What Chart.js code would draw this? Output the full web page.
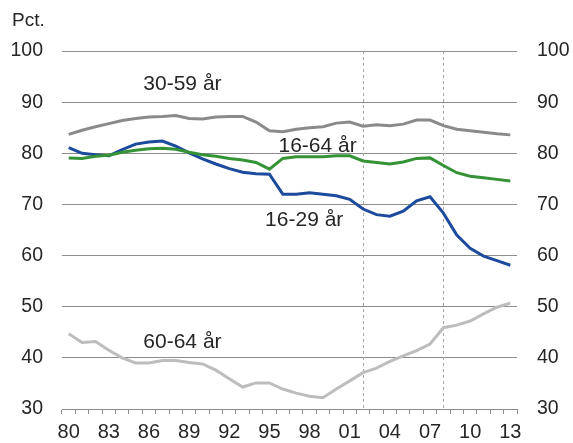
<!DOCTYPE html>
<html>
<head>
<meta charset="utf-8">
<script src="https://cdn.jsdelivr.net/npm/chart.js@4.4.0/dist/chart.umd.min.js"></script>
<style>
  html, body { margin: 0; padding: 0; background: #fff; }
  #wrap { width: 573px; height: 443px; }
</style>
</head>
<body>
<div id="wrap"><canvas id="chart" width="573" height="443"></canvas></div>
<script>
const years = [];
for (let y = 1980; y <= 2013; y++) years.push(y);

// beskæftigelsesfrekvens, pct.
const age3059 = [83.7, 84.5, 85.2, 85.8, 86.4, 86.8, 87.1, 87.2, 87.4, 86.8,
                 86.7, 87.1, 87.2, 87.2, 86.1, 84.4, 84.2, 84.7, 85.0, 85.2,
                 85.9, 86.1, 85.3, 85.6, 85.4, 85.7, 86.5, 86.5, 85.4, 84.7,
                 84.4, 84.1, 83.8, 83.6];
const age1664 = [79.1, 79.0, 79.4, 79.6, 80.2, 80.6, 80.9, 81.0, 80.8, 80.2,
                 79.7, 79.4, 79.0, 78.7, 78.2, 76.9, 79.0, 79.3, 79.3, 79.3,
                 79.5, 79.5, 78.5, 78.2, 77.9, 78.3, 79.0, 79.1, 77.6, 76.2,
                 75.5, 75.2, 74.9, 74.6];
const age1629 = [81.1, 80.0, 79.7, 79.5, 80.7, 81.8, 82.2, 82.4, 81.4, 80.1,
                 78.9, 77.9, 77.0, 76.3, 76.0, 75.9, 72.0, 72.0, 72.3, 72.0,
                 71.7, 71.0, 69.1, 68.0, 67.7, 68.7, 70.7, 71.5, 68.3, 64.0,
                 61.4, 59.9, 59.0, 58.1];
const age6064 = [44.7, 43.0, 43.2, 41.5, 40.0, 39.0, 39.0, 39.5, 39.5, 39.1,
                 38.8, 37.6, 35.9, 34.3, 35.1, 35.1, 33.9, 33.1, 32.5, 32.2,
                 33.9, 35.5, 37.1, 38.0, 39.3, 40.4, 41.4, 42.7, 45.9, 46.4,
                 47.2, 48.6, 49.9, 50.7];

const markerYears = [2002, 2008];
const yTicks = [30, 40, 50, 60, 70, 80, 90, 100];

// serie-labels: [tekst, x (kategori-indeks), y (pct.)]
const seriesLabels = [
    ['30-59 år', 8.5, 93.6],
    ['16-64 år', 18.6, 81.3],
    ['16-29 år', 17.6, 67.0],
    ['60-64 år', 8.5, 43.0]
];

const FONT = "'Liberation Sans', Arial, sans-serif";
const TEXT = '#262626';
const GRID = '#8c8c8c';

const annotations = {
    id: 'annotations',
    beforeDatasetsDraw(chart) {
        const ctx = chart.ctx;
        const xs = chart.scales.x;
        const area = chart.chartArea;
        ctx.save();
        ctx.strokeStyle = '#a8a8a8';
        ctx.lineWidth = 1;
        ctx.setLineDash([3, 3]);
        markerYears.forEach(yr => {
            const px = Math.round(xs.getPixelForValue(years.indexOf(yr))) + 0.5;
            ctx.beginPath();
            ctx.moveTo(px, area.top);
            ctx.lineTo(px, area.bottom);
            ctx.stroke();
        });
        ctx.restore();
    },
    afterDatasetsDraw(chart) {
        const ctx = chart.ctx;
        const xs = chart.scales.x;
        const ys = chart.scales.y;
        ctx.save();
        ctx.fillStyle = TEXT;
        ctx.font = '21px ' + FONT;
        ctx.textAlign = 'center';
        ctx.textBaseline = 'middle';
        seriesLabels.forEach(([txt, xi, yv]) => {
            ctx.fillText(txt, xs.getPixelForValue(xi), ys.getPixelForValue(yv));
        });
        ctx.font = '19px ' + FONT;
        ctx.textAlign = 'left';
        ctx.fillText('Pct.', 12, 21);
        ctx.restore();
    }
};

function line(label, data, color) {
    return {
        label: label,
        data: data,
        borderColor: color,
        backgroundColor: color,
        borderWidth: 3,
        pointRadius: 0,
        tension: 0,
        fill: false
    };
}

new Chart(document.getElementById('chart'), {
    type: 'line',
    data: {
        labels: years,
        datasets: [
            line('30-59 år', age3059, '#8a8a8a'),
            line('16-64 år', age1664, '#359335'),
            line('16-29 år', age1629, '#1c4a9c'),
            line('60-64 år', age6064, '#bdbdbd')
        ]
    },
    options: {
        responsive: false,
        animation: false,
        layout: { padding: { top: 51, left: 0, right: 0, bottom: 0 } },
        plugins: {
            legend: { display: false },
            tooltip: { enabled: false }
        },
        scales: {
            x: {
                type: 'category',
                offset: true,
                afterFit: s => { s.height = 34; },
                grid: {
                    offset: true,
                    drawOnChartArea: false,
                    drawTicks: true,
                    tickLength: 5,
                    color: GRID
                },
                border: { display: true, color: GRID, width: 1 },
                ticks: {
                    autoSkip: false,
                    maxRotation: 0,
                    padding: 6,
                    color: TEXT,
                    font: { family: FONT, size: 20 },
                    callback: (v, i) => i % 3 === 0 ? String(years[i]).slice(2) : ''
                }
            },
            y: {
                position: 'left',
                min: 30,
                max: 100,
                afterFit: s => { s.width = 62; },
                afterBuildTicks: s => { s.ticks = yTicks.map(v => ({ value: v })); },
                grid: { color: GRID, drawTicks: false, lineWidth: 1 },
                border: { display: false },
                ticks: {
                    padding: 19,
                    color: TEXT,
                    font: { family: FONT, size: 19.5 }
                }
            },
            y2: {
                position: 'right',
                min: 30,
                max: 100,
                afterFit: s => { s.width = 56; },
                afterBuildTicks: s => { s.ticks = yTicks.map(v => ({ value: v })); },
                grid: { drawOnChartArea: false, drawTicks: false },
                border: { display: false },
                ticks: {
                    padding: 20,
                    color: TEXT,
                    font: { family: FONT, size: 19.5 }
                }
            }
        }
    },
    plugins: [annotations]
});
</script>
</body>
</html>
